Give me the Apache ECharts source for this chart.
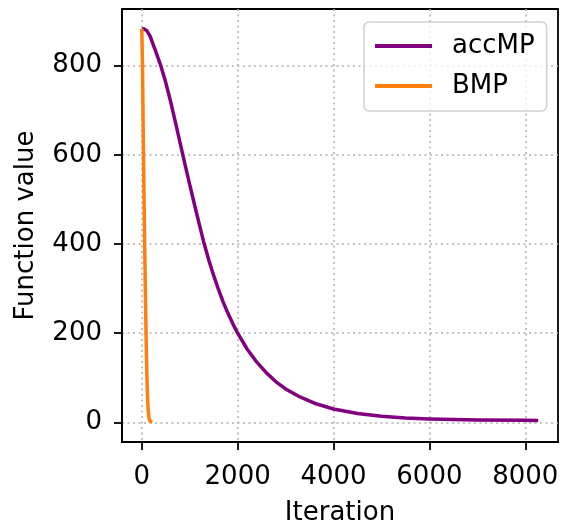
<!DOCTYPE html>
<html>
<head>
<meta charset="utf-8">
<script src="https://cdn.jsdelivr.net/npm/echarts@6/dist/echarts.min.js"></script>
<style>html,body{margin:0;padding:0;background:#fff}#c{width:561px;height:525px}</style>
</head>
<body>
<div id="c"></div>
<script>
const seriesNames = ['accMP', 'BMP'];
const accIter = [0, 50, 100, 173, 277, 396, 485, 600, 700, 800, 900, 1000, 1100, 1200, 1300, 1400, 1500, 1600, 1700, 1800, 1900, 2000, 2200, 2400, 2600, 2800, 3000, 3300, 3600, 4000, 4500, 5000, 5500, 6000, 7000, 8000, 8270];
const accValue = [883, 882, 879, 866, 836, 800, 768, 720, 674, 626, 579, 533, 488, 444, 401, 363, 329, 298, 269, 244, 221, 200, 164, 135, 111, 91, 75, 57, 43, 30, 20, 13.5, 9.7, 7.5, 5.3, 4.5, 4.4];
const bmpIter = [0, 15, 30, 45, 60, 75, 90, 105, 120, 135, 150, 170, 200, 215];
const bmpValue = [883, 800, 650, 520, 400, 290, 190, 110, 55, 25, 10, 3, 0.5, 0];
const xTicks = [0, 2000, 4000, 6000, 8000];
const yTicks = [0, 200, 400, 600, 800];
const xLabel = 'Iteration';
const yLabel = 'Function value';

const zip = (a, b) => a.map((v, i) => [v, b[i]]);
const font = 'DejaVu Sans';
const fs = 26;
const chart = echarts.init(document.getElementById('c'), null, {renderer: 'canvas'});
const axisCommon = {
  type: 'value',
  nameLocation: 'middle',
  nameTextStyle: {fontFamily: font, fontSize: fs, color: '#000'},
  axisLine: {show: true, onZero: false, lineStyle: {color: '#000', width: 1.8}},
  axisTick: {show: true, inside: false, length: 8, lineStyle: {color: '#000', width: 1.8}},
  axisLabel: {fontFamily: font, fontSize: fs, color: '#000', margin: 20, showMinLabel: true, showMaxLabel: true, formatter: v => String(v)},
  splitLine: {show: true, lineStyle: {color: '#b0b0b0', width: 1.5, type: [2, 3.5]}}
};
chart.setOption({
  animation: false,
  backgroundColor: '#fff',
  grid: {left: 122, top: 9, right: 3, bottom: 83, containLabel: false, outerBoundsMode: 'none', show: true, borderColor: '#000', borderWidth: 1.8, backgroundColor: 'transparent'},
  xAxis: Object.assign({}, axisCommon, {
    name: xLabel, nameGap: 58, min: -413, max: 8683,
    axisTick: Object.assign({}, axisCommon.axisTick, {customValues: xTicks}),
    axisLabel: Object.assign({}, axisCommon.axisLabel, {customValues: xTicks, margin: 22})
  }),
  yAxis: Object.assign({}, axisCommon, {
    name: yLabel, nameGap: 83, min: -44, max: 927,
    axisTick: Object.assign({}, axisCommon.axisTick, {customValues: yTicks}),
    axisLabel: Object.assign({}, axisCommon.axisLabel, {customValues: yTicks})
  }),
  legend: {
    left: 364, top: 22, orient: 'vertical',
    padding: [11, 12, 12, 11], itemGap: 14,
    itemWidth: 57, itemHeight: 4,
    backgroundColor: 'rgba(255,255,255,0.8)', borderColor: '#d0d0d0', borderWidth: 1.5, borderRadius: 5,
    textStyle: {fontFamily: font, fontSize: fs, color: '#000', padding: [0, 0, 0, 15]},
    data: seriesNames.map(n => ({name: n, icon: 'path://M0,0 H57 V4 H0 Z'}))
  },
  series: [
    {name: seriesNames[0], type: 'line', data: zip(accIter, accValue), smooth: false, showSymbol: false, symbol: 'none', color: '#800080', lineStyle: {color: '#800080', width: 3.5, join: 'round'}},
    {name: seriesNames[1], type: 'line', data: zip(bmpIter, bmpValue), smooth: false, showSymbol: false, symbol: 'none', color: '#ff7f0e', lineStyle: {color: '#ff7f0e', width: 3.5, join: 'round'}}
  ]
});
</script>
</body>
</html>
